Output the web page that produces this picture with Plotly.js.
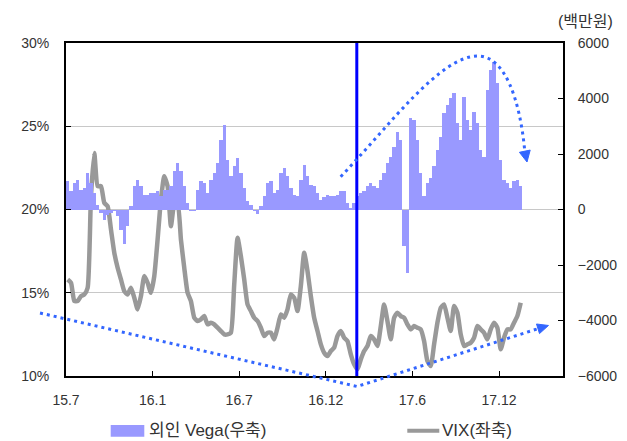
<!DOCTYPE html>
<html>
<head>
<meta charset="utf-8">
<script src="https://cdn.plot.ly/plotly-3.0.1.min.js"></script>
<style>html,body{margin:0;padding:0;background:#fff;}#chart{width:627px;height:441px;}</style>
</head>
<body>
<div id="chart"></div>
<script>
// Weekly series (index = week since 2015-07)
const vegaValues = [1010,650,950,1070,710,770,1310,950,590,170,-130,-370,-190,-130,-70,-250,-730,-1240,-610,110,
830,1070,830,530,530,590,610,650,470,710,710,830,1370,1670,1400,830,230,-60,-70,710,
1010,950,610,1070,1310,1670,2510,3050,1790,1190,1550,1850,1310,770,290,170,-70,-150,110,470,
950,1010,590,710,1310,1490,1190,770,530,470,1070,1610,1190,890,830,590,350,450,530,490,
470,530,680,650,230,50,230,470,590,650,830,950,830,770,1070,1310,1670,1910,2270,2810,
2500,-1300,-2300,3290,3230,2510,1310,470,950,1130,1550,2150,2630,3470,3770,4010,4190,3110,2510,4070,
3230,2870,3530,3110,2150,1910,4310,5030,5300,4550,1800,1070,950,770,1010,1070,830];
const vixValues = [15.8,15.6,14.5,14.5,14.8,14.9,15.3,20.8,23.4,21.4,21.4,20.4,20.2,18.8,17.4,16.5,15.8,15.1,14.9,15.3,
14.7,14.0,14.8,16.0,15.6,15.0,16.0,18.2,20.6,22.0,21.4,19.0,20.3,20.4,18.2,16.5,15.0,14.5,13.5,13.3,
13.4,13.6,13.1,13.2,13.1,12.9,12.7,12.5,12.5,12.6,15.5,18.3,17.2,15.8,14.3,13.9,13.5,13.3,12.9,12.4,
12.6,12.6,12.2,12.9,13.7,13.5,14.0,14.9,14.7,13.9,15.4,17.4,16.3,14.8,13.5,12.7,11.9,11.4,11.2,11.5,
11.7,12.4,12.7,12.3,12.1,11.3,10.7,10.4,11.0,11.5,11.8,12.4,12.2,11.8,13.0,14.3,13.3,12.2,13.5,13.8,
13.6,13.5,13.1,12.8,13.0,12.9,12.8,12.1,10.9,10.6,11.9,13.2,14.1,14.3,13.5,12.7,14.2,13.8,12.5,11.8,
11.9,12.0,12.3,13.0,12.8,12.6,12.2,12.8,13.2,12.9,11.6,12.3,12.8,12.8,13.2,13.6,14.4];
const tickLabels = ['15.7','16.1','16.7','16.12','17.6','17.12'];
const tickPos = [-0.5,25.5,51.5,77.5,103.5,129.5];
const eventWeek = 86.8;
const seriesNames = ['외인 Vega(우축)','VIX(좌축)'];

const font = 'Liberation Sans, Arial, "Noto Sans CJK KR", sans-serif';
const dotBlue = '#3366ff';

const traces = [
  {type:'bar', y: vegaValues, yaxis:'y2', name: seriesNames[0], width:1,
   marker:{color:'#9999ff', line:{width:0}}, showlegend:false, hoverinfo:'y'},
  {type:'scatter', mode:'lines', y: vixValues, yaxis:'y', name: seriesNames[1],
   line:{color:'#999999', width:4.5, shape:'spline', smoothing:0.5}, showlegend:false}
];

const layout = {
  width:627, height:441,
  margin:{l:66, r:64, t:43, b:65},
  paper_bgcolor:'#fff', plot_bgcolor:'#fff',
  font:{family:font, size:14, color:'#333'},
  bargap:0,
  xaxis:{range:[-0.5,148.7], tickmode:'array', tickvals:tickPos, ticktext:tickLabels,
    ticks:'inside', ticklen:5, tickcolor:'#000', tickwidth:1, showgrid:false, zeroline:false,
    showline:true, linecolor:'#000', linewidth:2, mirror:true, ticklabelstandoff:10},
  yaxis:{range:[10,30], dtick:5, ticksuffix:'%', ticks:'inside', ticklen:5, tickcolor:'#000',
    showgrid:true, gridcolor:'#c8c8c8', gridwidth:1, zeroline:false,
    showline:true, linecolor:'#000', linewidth:2, ticklabelstandoff:12},
  yaxis2:{range:[-6000,6000], dtick:2000, overlaying:'y', side:'right', ticks:'inside', ticklen:5,
    tickcolor:'#000', showgrid:false, zeroline:false, showline:true, linecolor:'#000', linewidth:2,
    ticklabelstandoff:10},
  shapes:[
    {type:'line', xref:'x', yref:'paper', x0:eventWeek, x1:eventWeek, y0:0, y1:1,
     line:{color:'#0000ff', width:3}},
    {type:'path', xref:'paper', yref:'paper',
     path:'M -0.0523 0.1892 L 0.5855 -0.0315 L 0.9497 0.1420',
     line:{color:dotBlue, width:3, dash:'3px,4px'}},
    {type:'path', xref:'paper', yref:'paper',
     path:'M 0.9708 0.1517 L 0.9527 0.1273 L 0.9467 0.1562 Z',
     fillcolor:dotBlue, line:{color:dotBlue, width:1}},
    {type:'path', xref:'paper', yref:'paper',
     path:'M 0.5527 0.5985 C 0.6519 0.7538 0.7525 0.9610 0.8290 0.9610 C 0.8833 0.9610 0.9135 0.8288 0.9231 0.6751',
     line:{color:dotBlue, width:3, dash:'3px,4px'}},
    {type:'path', xref:'paper', yref:'paper',
     path:'M 0.9276 0.6426 L 0.9340 0.6784 L 0.9123 0.6718 Z',
     fillcolor:dotBlue, line:{color:dotBlue, width:1}},
    // legend swatches
    {type:'rect', xref:'paper', yref:'paper', x0:(110.7-66)/497, x1:(144.3-66)/497,
     y0:(376-436.7)/333, y1:(376-425)/333, fillcolor:'#9999ff', line:{width:0}},
    {type:'line', xref:'paper', yref:'paper', x0:(407.3-66)/497, x1:(439.3-66)/497,
     y0:(376-430.7)/333, y1:(376-430.7)/333, line:{color:'#999999', width:4}}
  ],
  annotations:[
    {xref:'paper', yref:'paper', x:(585-66)/497, y:(376-22)/333, text:'(백만원)', showarrow:false,
     xanchor:'center', yanchor:'middle', font:{size:16, color:'#333'}},
    {xref:'paper', yref:'paper', x:(147-66)/497, y:(376-430.7)/333, text:seriesNames[0], showarrow:false,
     xanchor:'left', yanchor:'middle', font:{size:17, color:'#333'}},
    {xref:'paper', yref:'paper', x:(440-66)/497, y:(376-430.7)/333, text:seriesNames[1], showarrow:false,
     xanchor:'left', yanchor:'middle', font:{size:17, color:'#333'}}
  ]
};

Plotly.newPlot('chart', traces, layout, {staticPlot:true, displayModeBar:false});
</script>
</body>
</html>
